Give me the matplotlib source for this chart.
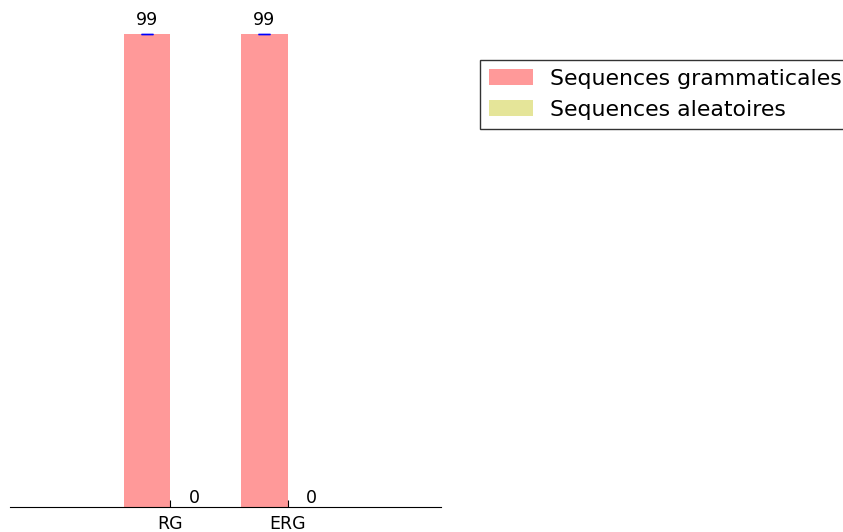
import numpy as np
import matplotlib
matplotlib.use("Agg")
import matplotlib.pyplot as plt

groups = ["RG", "ERG"]
gram_values = [99, 99]
alea_values = [0, 0]
gram_err = [0, 0]
series_labels = ["Sequences grammaticales", "Sequences aleatoires"]

ind = np.arange(len(groups))
width = 0.4

fig = plt.figure(figsize=(8.43, 5.32), dpi=100)
ax = fig.add_axes([10 / 843, 25 / 532, 431 / 843, 478 / 532])

b1 = ax.bar(ind, gram_values, width, color="r", alpha=0.4, align="edge",
            yerr=gram_err, error_kw=dict(ecolor="b", capsize=4, elinewidth=1),
            label=series_labels[0])
b2 = ax.bar(ind + width, alea_values, width, color="y", alpha=0.4, align="edge",
            label=series_labels[1])

for rects in (b1, b2):
    for r in rects:
        h = r.get_height()
        ax.text(r.get_x() + r.get_width() / 2, 1.01 * h, "%d" % h,
                ha="center", va="bottom", fontsize=12.5)

ax.set_xlim(-0.97, 2.71)
ax.set_ylim(0, 100)
ax.set_xticks(ind + width)
ax.set_xticklabels(groups, fontsize=12.5)
ax.set_yticks([])
for s in ("top", "left", "right"):
    ax.spines[s].set_visible(False)
ax.tick_params(axis="x", direction="in", length=5, pad=6)

leg = fig.legend(loc="upper left", bbox_to_anchor=(480 / 843, 1 - 60 / 532),
                 fontsize=15.8, fancybox=False, edgecolor="black", borderaxespad=0)
leg.get_frame().set_linewidth(1.0)

fig.savefig("out.png", dpi=100)
